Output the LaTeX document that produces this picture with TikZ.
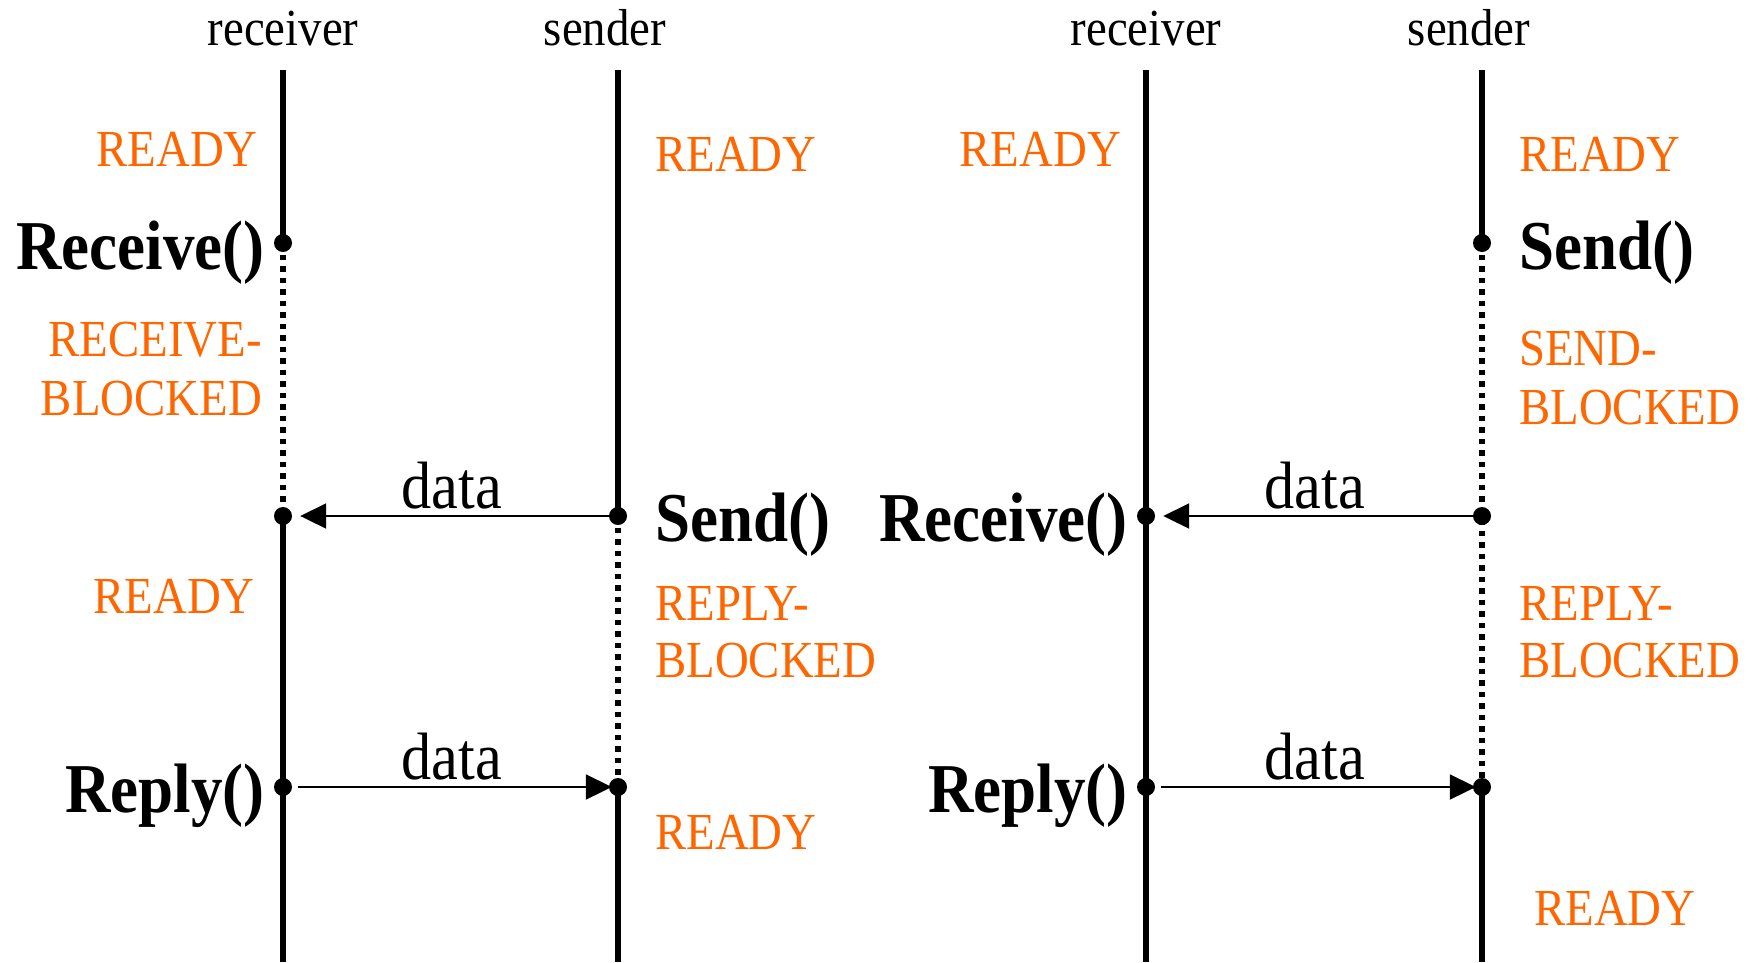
\documentclass[tikz,border=0pt]{standalone}
\usepackage{fontspec}
\setmainfont{Liberation Serif}[FakeStretch=0.9]
\usetikzlibrary{arrows.meta}
\definecolor{statecol}{HTML}{FF6600}

\begin{document}
\begin{tikzpicture}[x=1pt,y=-1pt,
  life/.style={line width=6pt},
  blocked/.style={line width=5.5pt, dash pattern=on 5.5pt off 6pt},
  dot/.style={circle,fill=black,inner sep=0pt,minimum size=18pt},
  msg/.style={line width=2pt,-{Triangle[length=26pt,width=25pt]}},
  state/.style={text=statecol,font=\fontsize{52}{58}\selectfont,inner sep=0pt},
  call/.style={font=\fontsize{70}{80}\selectfont\bfseries,inner sep=0pt},
  head/.style={font=\fontsize{52}{58}\selectfont,inner sep=0pt,anchor=base},
  datal/.style={font=\fontsize{67}{75}\selectfont,inner sep=0pt,anchor=base},
]
\useasboundingbox (0,0) rectangle (1758,962);

% ---------- left: receiver blocks first ----------
\node[head] (hr1) at (283,45) {receiver};
\node[head] (hs1) at (605,45) {sender};

\coordinate (rt1) at (283,69.5);
\coordinate (rb1) at (283,962);
\coordinate (st1) at (618,69.5);
\coordinate (sb1) at (618,962);

\node[dot] (r1) at (283,243) {};
\node[dot] (r2) at (283,516) {};
\node[dot] (r3) at (283,787) {};
\node[dot] (s1) at (618,516) {};
\node[dot] (s2) at (618,787) {};

\draw[life] (rt1) -- (r1.center);
\draw[blocked] (r1.center) -- (r2.center);
\draw[life] (r2.center) -- (rb1);
\draw[life] (st1) -- (s1.center);
\draw[blocked] (s1.center) -- (s2.center);
\draw[life] (s2.center) -- (sb1);

\draw[msg,shorten >=8pt] (s1) -- (r2);
\draw[msg,shorten <=6pt,shorten >=-3pt] (r3) -- (s2);
\node[datal] (d1) at (452,508) {data};
\node[datal] (d2) at (452,779) {data};

\node[state,anchor=base east] (l1) at (258,166) {READY};
\node[call,anchor=base east] (c1) at (265,269) {Receive()};
\node[state,anchor=base east] (l2a) at (262,356) {RECEIVE-};
\node[state,anchor=base east] (l2b) at (262,415) {BLOCKED};
\node[state,anchor=base east] (l3) at (255,613) {READY};
\node[call,anchor=base east] (c2) at (265,812) {Reply()};

\node[state,anchor=base west] (l4) at (655,171) {READY};
\node[call,anchor=base west] (c3) at (655,541) {Send()};
\node[state,anchor=base west] (l5a) at (655,620) {REPLY-};
\node[state,anchor=base west] (l5b) at (655,677) {BLOCKED};
\node[state,anchor=base west] (l6) at (655,849) {READY};

% ---------- right: sender blocks first ----------
\node[head] (hr2) at (1146,45) {receiver};
\node[head] (hs2) at (1469,45) {sender};

\coordinate (rt2) at (1146,69.5);
\coordinate (rb2) at (1146,962);
\coordinate (st2) at (1482,69.5);
\coordinate (sb2) at (1482,962);

\node[dot] (R1) at (1146,516) {};
\node[dot] (R2) at (1146,787) {};
\node[dot] (S1) at (1482,243) {};
\node[dot] (S2) at (1482,516) {};
\node[dot] (S3) at (1482,787) {};

\draw[life] (rt2) -- (rb2);
\draw[life] (st2) -- (S1.center);
\draw[blocked] (S1.center) -- (S3.center);
\draw[life] (S3.center) -- (sb2);

\draw[msg,shorten >=8pt] (S2) -- (R1);
\draw[msg,shorten <=6pt,shorten >=-3pt] (R2) -- (S3);
\node[datal] (d3) at (1315,508) {data};
\node[datal] (d4) at (1315,779) {data};

\node[state,anchor=base east] (m1) at (1121,166) {READY};
\node[call,anchor=base east] (k1) at (1128,541) {Receive()};
\node[call,anchor=base east] (k2) at (1128,812) {Reply()};

\node[state,anchor=base west] (m2) at (1519,171) {READY};
\node[call,anchor=base west] (k3) at (1519,269) {Send()};
\node[state,anchor=base west] (m3a) at (1519,365) {SEND-};
\node[state,anchor=base west] (m3b) at (1519,424) {BLOCKED};
\node[state,anchor=base west] (m4a) at (1519,620) {REPLY-};
\node[state,anchor=base west] (m4b) at (1519,677) {BLOCKED};
\node[state,anchor=base west] (m5) at (1534,925) {READY};
\end{tikzpicture}
\end{document}
